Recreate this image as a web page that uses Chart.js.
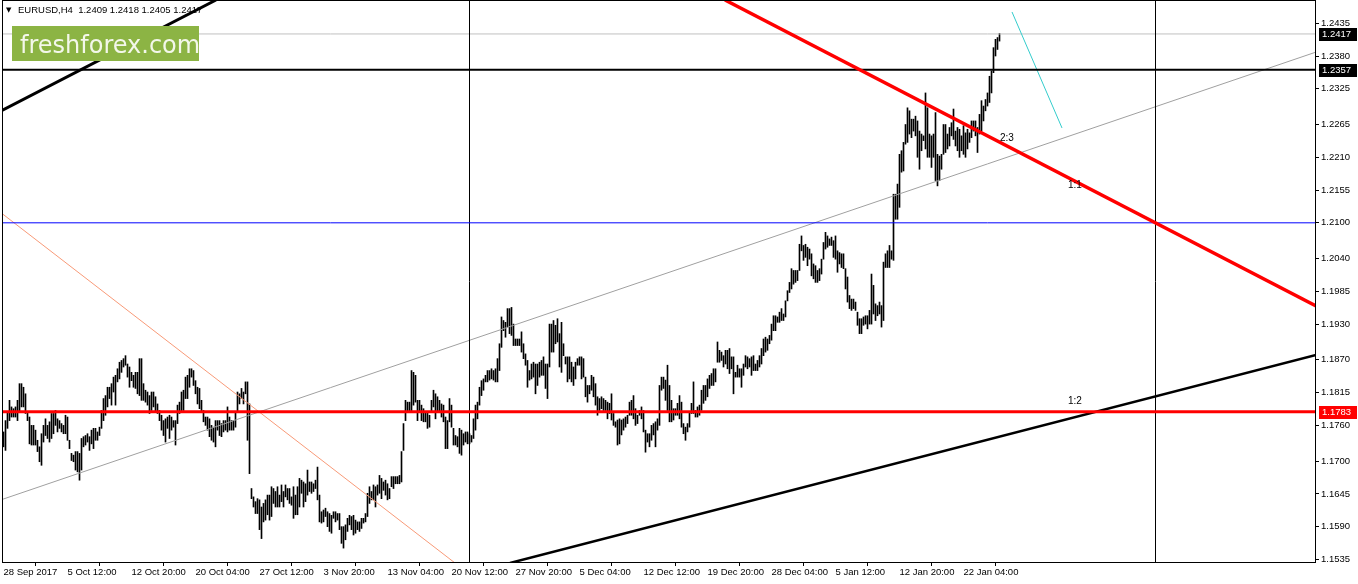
<!DOCTYPE html>
<html><head><meta charset="utf-8">
<script src="https://cdn.jsdelivr.net/npm/chart.js@4.4.0/dist/chart.umd.min.js"></script>
<style>html,body{margin:0;padding:0;background:#fff;}canvas{display:block;}</style>
</head><body>
<canvas id="c" width="1358" height="584"></canvas>
<script>
// EURUSD H4 bar highs / lows (bar index 0 = 28 Sep 2017 00:00)
const highs = [
1.1749,1.1768,1.1782,1.1802,1.1791,1.1788,1.1791,1.1802,1.1830,1.1830,
1.1824,1.1813,1.1782,1.1774,1.1760,1.1760,1.1752,1.1735,1.1724,1.1746,
1.1760,1.1771,1.1760,1.1766,1.1780,1.1780,1.1785,1.1771,1.1768,1.1763,
1.1760,1.1777,1.1774,1.1735,1.1713,1.1710,1.1716,1.1716,1.1713,1.1738,
1.1741,1.1743,1.1746,1.1741,1.1752,1.1755,1.1755,1.1749,1.1757,1.1785,
1.1805,1.1810,1.1824,1.1824,1.1830,1.1841,1.1844,1.1855,1.1866,1.1869,
1.1872,1.1877,1.1863,1.1858,1.1849,1.1844,1.1849,1.1849,1.1872,1.1872,
1.1830,1.1819,1.1816,1.1810,1.1816,1.1816,1.1808,1.1796,1.1785,1.1777,
1.1768,1.1771,1.1774,1.1777,1.1774,1.1768,1.1768,1.1794,1.1799,1.1816,
1.1819,1.1841,1.1844,1.1855,1.1855,1.1852,1.1835,1.1824,1.1822,1.1802,
1.1785,1.1774,1.1774,1.1771,1.1760,1.1757,1.1768,1.1768,1.1768,1.1763,
1.1768,1.1768,1.1791,1.1774,1.1768,1.1768,1.1782,1.1816,1.1813,1.1822,
1.1816,1.1833,1.1833,1.1796,
1.1654,1.1640,1.1632,1.1637,1.1635,1.1623,
1.1629,1.1635,1.1643,1.1643,1.1657,1.1654,1.1649,1.1657,1.1643,1.1660,
1.1649,1.1660,1.1654,1.1654,1.1640,1.1657,1.1643,1.1657,1.1671,1.1668,
1.1665,1.1662,1.1685,1.1665,1.1665,1.1662,1.1668,1.1690,1.1643,1.1615,
1.1618,1.1621,1.1615,1.1612,1.1609,1.1615,1.1615,1.1612,1.1612,1.1590,
1.1590,1.1593,1.1604,1.1609,1.1607,1.1609,1.1601,1.1598,1.1598,1.1604,
1.1604,1.1612,1.1646,1.1657,1.1649,1.1660,1.1657,1.1660,1.1676,1.1671,
1.1665,1.1668,1.1662,1.1654,1.1674,1.1674,1.1674,1.1674,1.1676,1.1716,
1.1763,1.1802,1.1799,1.1799,1.1852,1.1849,1.1844,1.1802,1.1802,1.1794,
1.1788,1.1782,1.1782,1.1777,1.1802,1.1819,1.1813,1.1808,1.1802,1.1796,
1.1794,1.1774,1.1768,1.1805,1.1794,1.1755,1.1743,1.1741,1.1755,1.1752,
1.1746,1.1749,1.1749,1.1746,1.1743,1.1771,1.1794,1.1799,1.1824,1.1835,
1.1838,
1.1844,1.1852,1.1852,1.1855,1.1852,1.1855,1.1872,1.1897,1.1942,
1.1936,1.1933,1.1956,1.1956,1.1958,1.1930,1.1905,1.1905,1.1905,1.1917,
1.1897,1.1880,1.1869,1.1852,1.1863,1.1866,1.1863,1.1863,1.1866,1.1869,
1.1875,1.1863,1.1863,1.1930,1.1930,1.1936,1.1928,1.1939,1.1914,1.1933,
1.1897,1.1875,1.1875,1.1875,1.1866,1.1858,1.1866,1.1872,1.1875,1.1875,
1.1872,1.1841,1.1827,1.1827,1.1844,1.1841,1.1830,1.1808,1.1805,1.1808,
1.1805,1.1802,1.1799,1.1797,1.1813,1.1780,1.1766,1.1769,1.1771,1.1769,
1.1771,1.1774,1.1777,1.1799,1.1802,1.1810,1.1788,1.1777,1.1785,1.1791,
1.1785,1.1752,1.1746,1.1746,1.1760,1.1763,1.1766,1.1771,1.1827,1.1841,
1.1841,1.1836,1.1861,1.1827,1.1802,1.1788,1.1788,1.1797,1.1810,1.1799,
1.1763,1.1757,1.1763,1.1782,1.1797,1.1833,1.1785,1.1791,1.1794,1.1819,
1.1827,1.1827,1.1838,1.1844,1.1847,1.1855,1.1855,1.1900,1.1886,1.1883,
1.1877,1.1886,1.1886,1.1889,
1.1875,1.1875,1.1849,1.1861,1.1855,1.1855,
1.1863,1.1877,1.1875,1.1872,1.1875,1.1877,1.1863,1.1869,1.1877,1.1889,
1.1905,1.1908,1.1905,1.1911,1.1930,1.1944,1.1944,1.1942,1.1950,1.1956,
1.1947,1.1969,1.1986,1.2000,1.2023,1.2020,1.2020,1.2020,1.2064,1.2078,
1.2062,1.2064,1.2059,1.2056,1.2048,1.2031,1.2028,1.2020,1.2023,1.2039,
1.2067,1.2084,1.2078,1.2073,1.2076,1.2070,1.2078,1.2053,1.2050,1.2048,
1.2048,1.2023,1.2009,1.1978,1.1972,1.1972,1.1967,1.1950,1.1939,1.1939,
1.1942,1.1944,1.1944,1.1953,1.2014,1.1995,1.1964,1.1961,1.1967,1.1961,
1.2034,1.2048,1.2053,1.2062,1.2053,
1.2148,1.2148,1.2165,1.2215,1.2221,
1.2235,1.2265,1.2293,1.2288,1.2274,1.2274,1.2279,1.2271,1.2254,1.2249,
1.2246,1.2318,1.2293,1.2249,1.2246,1.2249,1.2285,1.2215,1.2212,1.2215,
1.2265,1.2265,1.2249,1.2260,1.2268,1.2291,1.2254,1.2260,1.2257,1.2246,
1.2263,1.2251,1.2257,1.2251,1.2271,1.2271,1.2271,1.2260,1.2282,1.2305,
1.2296,1.2307,1.2318,1.2346,1.2355,1.2394,1.2408,1.2411,1.2418
];
const lows = [
1.1724,1.1718,1.1755,1.1768,1.1774,1.1774,1.1774,1.1768,1.1782,1.1791,
1.1791,1.1780,1.1768,1.1729,1.1727,1.1727,1.1727,1.1716,1.1699,1.1693,
1.1732,1.1743,1.1738,1.1732,1.1738,1.1746,1.1760,1.1749,1.1755,1.1749,
1.1746,1.1746,1.1735,1.1721,1.1701,1.1699,1.1685,1.1682,1.1668,1.1685,
1.1724,1.1727,1.1732,1.1718,1.1729,1.1721,1.1735,1.1735,1.1743,1.1755,
1.1768,1.1777,1.1791,1.1805,1.1794,1.1816,1.1794,1.1833,1.1838,1.1849,
1.1858,1.1861,1.1841,1.1824,1.1835,1.1824,1.1822,1.1813,1.1810,1.1802,
1.1802,1.1799,1.1794,1.1780,1.1785,1.1791,1.1782,1.1780,1.1768,1.1752,
1.1743,1.1732,1.1755,1.1738,1.1752,1.1757,1.1727,1.1763,1.1780,1.1782,
1.1785,1.1805,1.1805,1.1824,1.1841,1.1827,1.1813,1.1796,1.1788,1.1782,
1.1766,1.1760,1.1752,1.1741,1.1735,1.1732,1.1724,1.1752,1.1743,1.1741,
1.1749,1.1752,1.1749,1.1752,1.1752,1.1752,1.1757,1.1782,1.1796,1.1805,
1.1796,1.1813,1.1735,1.1679,
1.1637,1.1623,1.1612,1.1612,1.1585,1.1570,
1.1598,1.1601,1.1610,1.1601,1.1607,1.1629,1.1623,1.1623,1.1623,1.1632,
1.1623,1.1640,1.1635,1.1629,1.1626,1.1604,1.1610,1.1610,1.1623,1.1646,
1.1623,1.1632,1.1643,1.1649,1.1646,1.1649,1.1654,1.1635,1.1598,1.1596,
1.1598,1.1607,1.1590,1.1582,1.1579,1.1604,1.1598,1.1601,1.1585,1.1562,
1.1554,1.1568,1.1582,1.1593,1.1585,1.1576,1.1579,1.1585,1.1582,1.1587,
1.1596,1.1598,1.1607,1.1629,1.1635,1.1635,1.1623,1.1643,1.1646,1.1637,
1.1651,1.1643,1.1635,1.1637,1.1657,1.1654,1.1662,1.1662,1.1662,1.1665,
1.1718,1.1768,1.1782,1.1782,1.1782,1.1794,1.1799,1.1768,1.1782,1.1768,
1.1766,1.1766,1.1755,1.1757,1.1782,1.1791,1.1771,1.1782,1.1782,1.1774,
1.1766,1.1721,1.1721,1.1766,1.1757,1.1727,1.1727,1.1724,1.1713,1.1710,
1.1727,1.1732,1.1729,1.1729,1.1732,1.1738,1.1752,1.1771,1.1794,1.1810,
1.1819,
1.1833,1.1833,1.1836,1.1838,1.1836,1.1833,1.1833,1.1852,1.1891,
1.1919,1.1908,1.1925,1.1914,1.1911,1.1894,1.1894,1.1894,1.1894,1.1883,
1.1872,1.1861,1.1824,1.1836,1.1838,1.1841,1.1813,1.1827,1.1841,1.1844,
1.1844,1.1822,1.1805,1.1858,1.1883,1.1883,1.1897,1.1900,1.1858,1.1849,
1.1877,1.1863,1.1833,1.1838,1.1833,1.1827,1.1838,1.1861,1.1861,1.1838,
1.1841,1.1808,1.1799,1.1813,1.1819,1.1808,1.1794,1.1777,1.1785,1.1788,
1.1785,1.1785,1.1771,1.1780,1.1769,1.1760,1.1757,1.1727,1.1729,1.1744,
1.1752,1.1757,1.1763,1.1777,1.1777,1.1771,1.1760,1.1763,1.1777,1.1771,
1.1749,1.1715,1.1732,1.1724,1.1735,1.1744,1.1724,1.1752,1.1760,1.1819,
1.1822,1.1802,1.1785,1.1766,1.1766,1.1769,1.1777,1.1777,1.1771,1.1757,
1.1746,1.1735,1.1749,1.1757,1.1780,1.1780,1.1774,1.1774,1.1777,1.1785,
1.1797,1.1802,1.1808,1.1822,1.1827,1.1827,1.1833,1.1866,1.1866,1.1869,
1.1858,1.1863,1.1855,1.1847,
1.1855,1.1813,1.1841,1.1841,1.1841,1.1824,
1.1844,1.1858,1.1855,1.1858,1.1844,1.1852,1.1852,1.1852,1.1858,1.1863,
1.1877,1.1883,1.1886,1.1897,1.1903,1.1919,1.1919,1.1933,1.1933,1.1936,
1.1936,1.1942,1.1969,1.1983,1.1989,1.1997,1.2000,1.2003,1.2020,1.2053,
1.2037,1.2042,1.2028,1.2039,1.2011,1.2006,1.2000,1.2000,1.2003,1.2014,
1.2039,1.2056,1.2059,1.2062,1.2062,1.2042,1.2039,1.2017,1.2031,1.2025,
1.2023,1.1989,1.1967,1.1956,1.1953,1.1956,1.1953,1.1928,1.1914,1.1914,
1.1928,1.1930,1.1922,1.1930,1.1930,1.1947,1.1936,1.1944,1.1947,1.1925,
1.1936,1.2025,1.2025,1.2025,1.2039,
1.2037,1.2106,1.2106,1.2126,1.2185,
1.2187,1.2232,1.2235,1.2249,1.2243,1.2254,1.2246,1.2210,1.2190,1.2221,
1.2238,1.2224,1.2210,1.2210,1.2193,1.2210,1.2171,1.2162,1.2171,1.2190,
1.2215,1.2218,1.2224,1.2229,1.2246,1.2240,1.2229,1.2221,1.2210,1.2221,
1.2215,1.2210,1.2224,1.2235,1.2243,1.2254,1.2246,1.2218,1.2249,1.2254,
1.2271,1.2288,1.2296,1.2302,1.2318,1.2352,1.2380,1.2391,1.2405
];

// axis ticks
const yTicks = [1.2435,1.2380,1.2325,1.2265,1.2210,1.2155,1.2100,1.2040,1.1985,1.1930,1.1870,1.1815,1.1760,1.1700,1.1645,1.1590,1.1535];
const xTickIdx = [0,32,64,96,128,160,192,224,256,288,320,352,384,416,448,480];
const xTickLabels = ['28 Sep 2017','5 Oct 12:00','12 Oct 20:00','20 Oct 04:00','27 Oct 12:00','3 Nov 20:00','13 Nov 04:00','20 Nov 12:00','27 Nov 20:00','5 Dec 04:00','12 Dec 12:00','19 Dec 20:00','28 Dec 04:00','5 Jan 12:00','12 Jan 20:00','22 Jan 04:00'];

// horizontal price levels
const levelBid = 1.2417;
const levelBlack = 1.2357;
const levelBlue = 1.2100;
const levelRed = 1.1783;

// trendlines: [barIndex, price] anchors
const trendGray = [[-0.75,1.16356],[656.25,1.23866]];
const trendSalmon = [[-0.75,1.21156],[225.75,1.1529]];
const trendRed = [[360.75,1.2474],[656.25,1.19604]];
const trendBlackLow = [[253.25,1.1529],[656.25,1.18781]];
const trendBlackHigh = [[-0.75,1.22887],[106.25,1.2474]];
const trendCyan = [[504.25,1.24539],[529.25,1.22592]];
const vLines = [233, 576];

// text annotations
const noteText = ['2:3','1:1','1:2'];
const noteIdx = [498.25,532.25,532.25];
const notePrice = [1.22424,1.21635,1.18012];

const header = 'EURUSD,H4  1.2409 1.2418 1.2405 1.2417';
const boxPrices = [levelBid, levelBlack, levelRed];

const YMIN = 1.1529, YMAX = 1.2474, XMIN = -0.75, XMAX = 656.25;
const AXFONT = {family:'Liberation Sans', size:9.5};

function seg(pts, color, w, order){
  return {type:'line', data: pts.map(p=>({x:p[0], y:p[1]})), borderColor:color, borderWidth:w,
    pointRadius:0, pointHoverRadius:0, fill:false, tension:0, order:order};
}
function hline(v, color, w, order){ return seg([[XMIN,v],[XMAX,v]], color, w, order); }

const datasets = [
  {type:'bar', data: highs.map((h,i)=>({x:i, y:[lows[i], h]})), backgroundColor:'#000', borderWidth:0,
   barThickness:1, grouped:false, order:10},
  seg(trendGray, '#a0a0a0', 1, 5),
  seg(trendSalmon, '#f89a78', 1, 5),
  hline(levelBid, '#c0c0c0', 1, 6),
  hline(levelBlue, '#0000ff', 1, 4),
  ...vLines.map(v=>seg([[v,YMIN],[v,YMAX]], '#000', 1, 4)),
  seg(trendCyan, '#33cccc', 1, 3),
  seg(trendBlackHigh, '#000', 3, 2),
  seg(trendBlackLow, '#000', 2.5, 2),
  hline(levelBlack, '#000', 2, 2),
  hline(levelRed, '#ff0000', 3, 1),
  seg(trendRed, '#ff0000', 3.5, 0)
];

const overlay = {
  id:'overlay',
  afterDatasetsDraw(chart){
    const {ctx, chartArea:a, scales:{x, y}} = chart;
    ctx.save();
    ctx.strokeStyle = '#000'; ctx.lineWidth = 1;
    ctx.strokeRect(a.left+0.5, a.top+0.5, a.right-a.left-1, a.bottom-a.top-1);
    ctx.font = '10px "Liberation Sans"'; ctx.fillStyle = '#000';
    ctx.textBaseline = 'middle'; ctx.textAlign = 'left';
    noteText.forEach((t,i)=>ctx.fillText(t, x.getPixelForValue(noteIdx[i]), y.getPixelForValue(notePrice[i])));
    ctx.font = '9.5px "Liberation Sans"';
    boxPrices.forEach((p,i)=>{
      const py = Math.round(y.getPixelForValue(p));
      ctx.fillStyle = i===2 ? '#ff0000' : '#000';
      ctx.fillRect(a.right+3, py-6, 38, 13);
      ctx.fillStyle = '#fff';
      ctx.fillText(p.toFixed(4), a.right+6, py+0.5);
    });
    // header
    ctx.fillStyle = '#000';
    ctx.font = '7px "DejaVu Sans"';
    ctx.fillText('\u25BC', 6, 10);
    ctx.font = '9.5px "Liberation Sans"';
    ctx.fillText(header, 18, 10.5);
    // logo
    ctx.fillStyle = '#8cb444';
    ctx.fillRect(12, 26, 187, 35);
    ctx.fillStyle = '#f3f7ea';
    ctx.textBaseline = 'alphabetic';
    ctx.font = '24px "DejaVu Sans"';
    ctx.fillText('freshforex.com', 20, 53);
    ctx.restore();
  }
};

function noPad(s){ s.paddingTop = 0; s.paddingBottom = 0; s.paddingLeft = 0; s.paddingRight = 0; }

new Chart(document.getElementById('c'), {
  type:'bar',
  data:{datasets},
  options:{
    responsive:false, animation:false, devicePixelRatio:1,
    layout:{padding:{left:2, top:0, right:0, bottom:0}},
    plugins:{legend:{display:false}, tooltip:{enabled:false}},
    scales:{
      x:{type:'linear', min:XMIN, max:XMAX, offset:false,
        grid:{display:true, drawOnChartArea:false, drawTicks:true, tickLength:3, color:'#000'},
        border:{display:false},
        afterBuildTicks:s=>{ s.ticks = xTickIdx.map(v=>({value:v})); },
        ticks:{autoSkip:false, maxRotation:0, align:'start', padding:1, color:'#000', font:AXFONT,
          callback:(v,i)=>xTickLabels[i]},
        afterFit:s=>{ s.height = 21; noPad(s); }
      },
      y:{type:'linear', position:'right', min:YMIN, max:YMAX,
        grid:{display:true, drawOnChartArea:false, drawTicks:true, tickLength:3, color:'#000'},
        border:{display:false},
        afterBuildTicks:s=>{ s.ticks = yTicks.map(v=>({value:v})); },
        ticks:{autoSkip:false, padding:2, color:'#000', font:AXFONT, callback:v=>Number(v).toFixed(4)},
        afterFit:s=>{ s.width = 42; noPad(s); }
      }
    }
  },
  plugins:[overlay]
});
</script>
</body></html>
